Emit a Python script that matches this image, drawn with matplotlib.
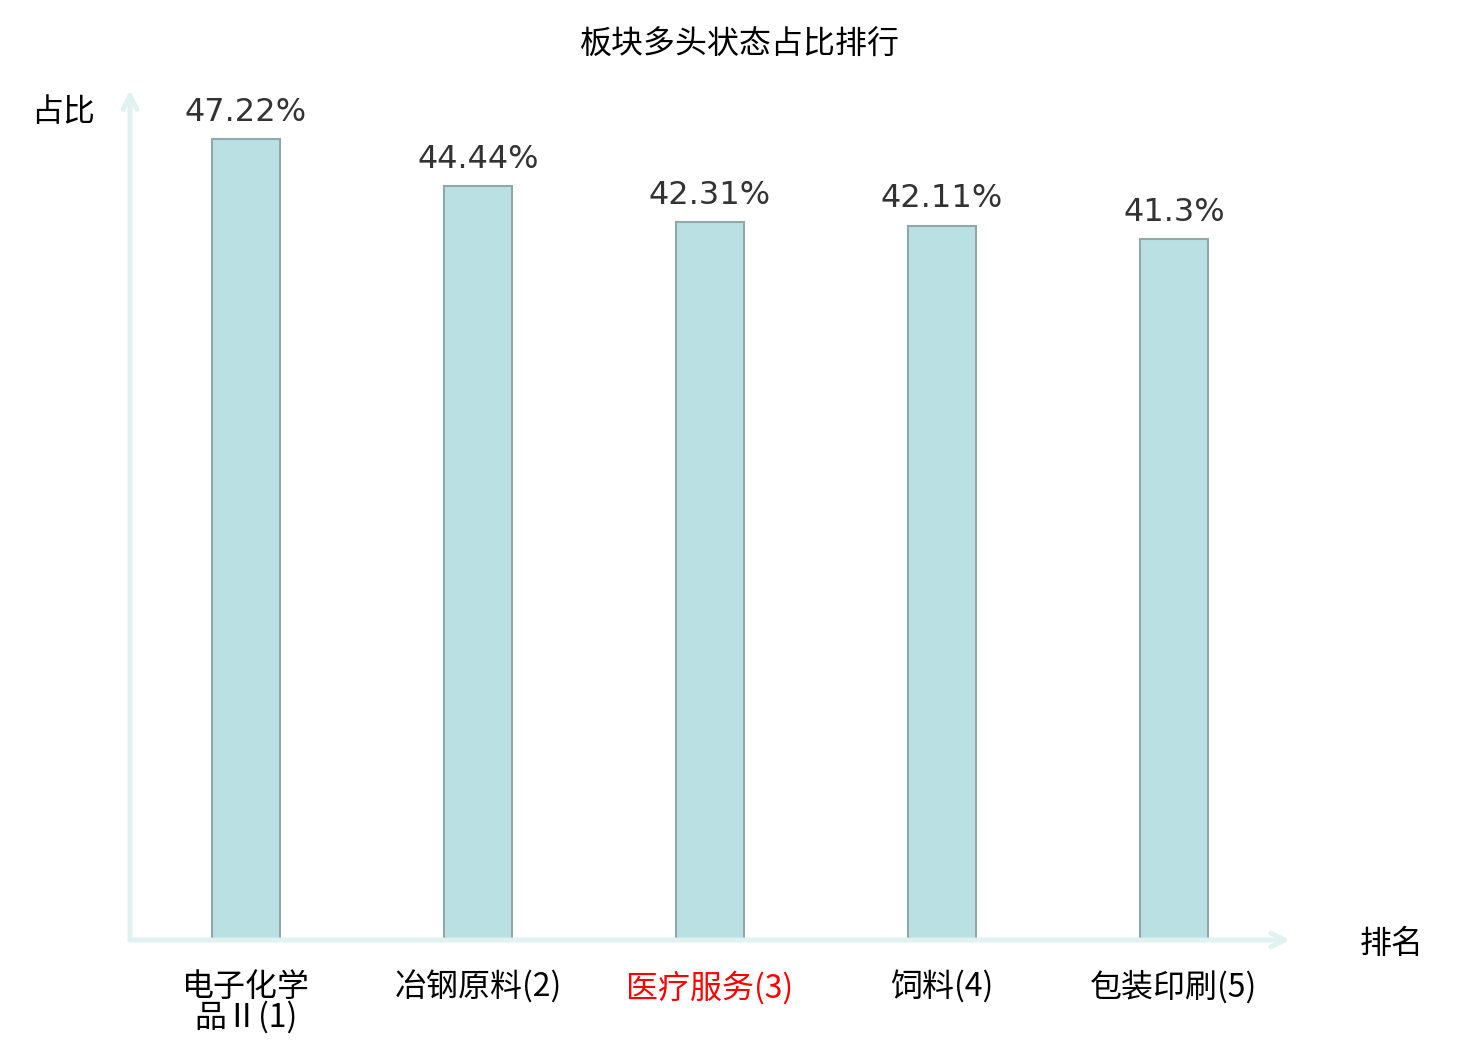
import matplotlib.pyplot as plt

# --- Data ---
categories = ["电子化学\n品Ⅱ(1)", "冶钢原料(2)", "医疗服务(3)", "饲料(4)", "包装印刷(5)"]
values = [47.22, 44.44, 42.31, 42.11, 41.3]
value_labels = ["47.22%", "44.44%", "42.31%", "42.11%", "41.3%"]
highlight = 2  # index of the red tick label

plt.rcParams["font.family"] = ["Noto Sans CJK SC", "DejaVu Sans"]

fig = plt.figure(figsize=(14.8, 10.4), dpi=100)
ax = fig.add_axes([130 / 1480, 100 / 1040, 1160 / 1480, 850 / 1040])

x = list(range(len(values)))
ax.bar(x, values, width=0.295, color="#bbe0e3", edgecolor="#8fa8a8", linewidth=1.5)

for xi, v, lab in zip(x, values, value_labels):
    ax.annotate(lab, (xi, v), xytext=(0, 8), textcoords="offset points",
                ha="center", va="bottom", fontsize=23, color="#333333",
                family="DejaVu Sans")

ax.set_xlim(-0.5, 4.5)
ax.set_ylim(0, 50.1)

for s in ax.spines.values():
    s.set_visible(False)
ax.set_yticks([])
ax.set_xticks(x)
ax.set_xticklabels(categories, fontsize=23, linespacing=0.95)
ax.tick_params(axis="x", length=0, pad=22)
for i, t in enumerate(ax.get_xticklabels()):
    t.set_color("#ff0000" if i == highlight else "#000000")
    t.set_verticalalignment("top")

# axis arrows
axis_col = "#dff2f0"
arrow = dict(arrowstyle="->,head_length=1.0,head_width=0.5",
             color=axis_col, lw=3.5, shrinkA=0, shrinkB=0)
ax.annotate("", xy=(1.0, 0), xytext=(0, 0), xycoords="axes fraction",
            arrowprops=arrow, annotation_clip=False)
ax.annotate("", xy=(0, 1.0), xytext=(0, 0), xycoords="axes fraction",
            arrowprops=arrow, annotation_clip=False)

fig.text(63 / 1480, 1 - 112 / 1040, "占比", fontsize=23, ha="center", va="center")
fig.text(1392 / 1480, 1 - 944 / 1040, "排名", fontsize=23, ha="center", va="center")
fig.text(740 / 1480, 1 - 45 / 1040, "板块多头状态占比排行", fontsize=23,
         ha="center", va="center")

plt.savefig("out.png", dpi=100)
